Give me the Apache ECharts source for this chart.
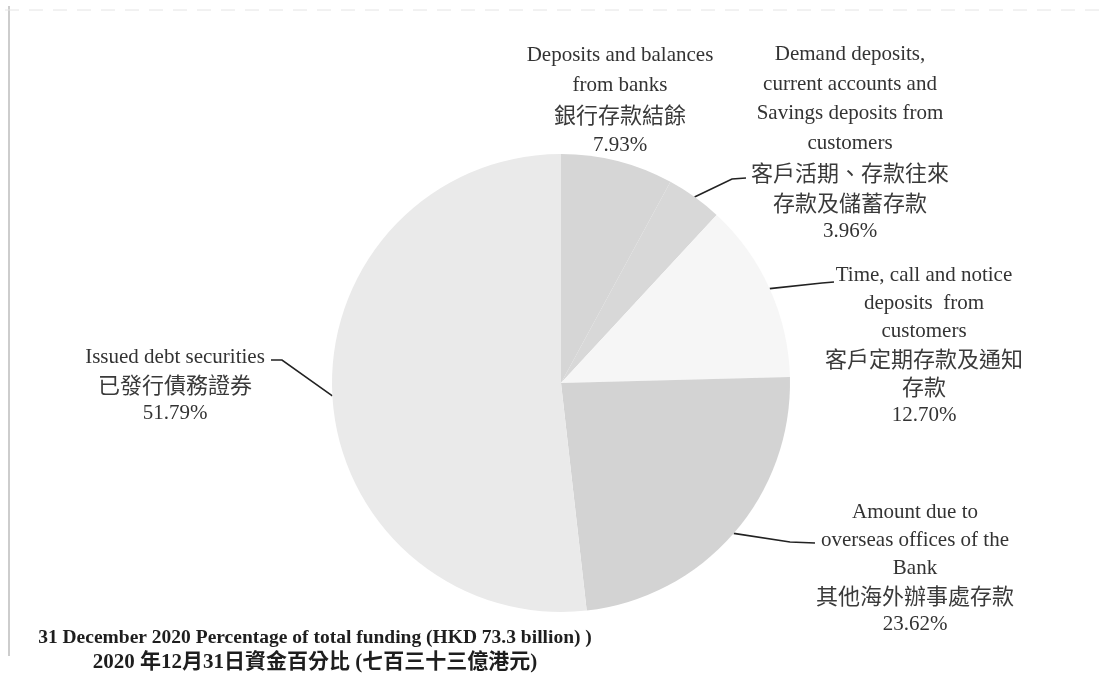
<!DOCTYPE html>
<html>
<head>
<meta charset="utf-8">
<script src="https://cdn.jsdelivr.net/npm/echarts@6/dist/echarts.min.js"></script>
<style>
html,body{margin:0;padding:0;background:#fff;}
#chart{width:1099px;height:674px;}
</style>
</head>
<body>
<div id="chart"></div>
<script>
// ---- data ----
const categoriesEn = [
  'Deposits and balances\nfrom banks',
  'Demand deposits,\ncurrent accounts and\nSavings deposits from\ncustomers',
  'Time, call and notice\ndeposits  from\ncustomers',
  'Amount due to\noverseas offices of the\nBank',
  'Issued debt securities'
];
const categoriesZh = [
  '銀行存款結餘',
  '客戶活期、存款往來\n存款及儲蓄存款',
  '客戶定期存款及通知\n存款',
  '其他海外辦事處存款',
  '已發行債務證券'
];
const percentages = [7.93, 3.96, 12.70, 23.62, 51.79];
const titleLines = [
  '31 December 2020 Percentage of total funding (HKD 73.3 billion) )',
  '2020 年12月31日資金百分比 (七百三十三億港元)'
];

// ---- layout / style ----
const sliceColors = ['#d6d6d6', '#d8d8d8', '#f6f6f6', '#d3d3d3', '#eaeaea'];
const labelPos = [[620, 40], [850, 40], [924, 261], [915, 498], [175, 343]];
const lineHeights = [30, 29.5, 28, 28, 28];
// bend + end of leader lines (null = no leader)
const leaderEnds = [
  null,
  [[732, 179], [746, 178]],
  [[822, 283], [834, 282]],
  [[790, 542], [815, 543]],
  [[282, 360], [271, 360]]
];

const chart = echarts.init(document.getElementById('chart'), null, {renderer: 'canvas'});
const enFont = "'Liberation Serif', 'Noto Sans CJK TC', serif";
const zhFont = "'Noto Sans CJK TC', 'Liberation Serif', serif";

const rich = {};
lineHeights.forEach(function (lh, i) {
  rich['e' + i] = {fontFamily: enFont, fontSize: 21, lineHeight: lh, color: '#333'};
  rich['c' + i] = {fontFamily: zhFont, fontSize: 22, lineHeight: lh, color: '#3a3a3a'};
});

const option = {
  animation: false,
  backgroundColor: '#ffffff',
  title: {
    text: '{a|' + titleLines[0] + '}\n{b|' + titleLines[1] + '}',
    left: 310,
    top: 620,
    textAlign: 'center',
    textStyle: {
      rich: {
        a: {fontFamily: enFont, fontWeight: 'bold', fontSize: 19.5, lineHeight: 25, color: '#1e1e1e'},
        b: {fontFamily: enFont, fontWeight: 'bold', fontSize: 21, lineHeight: 25, color: '#1e1e1e'}
      }
    }
  },
  graphic: [
    {type: 'line', shape: {x1: 9, y1: 6, x2: 9, y2: 656}, style: {stroke: '#bdbdbd', lineWidth: 1.5}},
    {type: 'line', shape: {x1: 5, y1: 10, x2: 1099, y2: 10}, style: {stroke: '#e4e4e4', lineWidth: 1, lineDash: [14, 10]}}
  ],
  series: [{
    type: 'pie',
    center: [561, 383],
    radius: 229,
    startAngle: 90,
    clockwise: true,
    avoidLabelOverlap: false,
    itemStyle: {borderWidth: 0},
    label: {
      show: true,
      position: 'outside',
      formatter: function (p) {
        const i = p.dataIndex;
        return '{e' + i + '|' + categoriesEn[i] + '}\n{c' + i + '|' + categoriesZh[i] + '}\n{e' + i + '|' + percentages[i].toFixed(2) + '%}';
      },
      align: 'center',
      rich: rich
    },
    labelLine: {show: true, length: 20, length2: 20, lineStyle: {color: '#222', width: 1.6}},
    labelLayout: function (params) {
      const i = params.dataIndex;
      const res = {x: labelPos[i][0], y: labelPos[i][1], align: 'center', verticalAlign: 'top'};
      if (leaderEnds[i] && params.labelLinePoints) {
        res.labelLinePoints = [params.labelLinePoints[0], leaderEnds[i][0], leaderEnds[i][1]];
      }
      return res;
    },
    emphasis: {disabled: true},
    data: percentages.map(function (v, i) {
      return {
        value: v,
        name: categoriesEn[i],
        itemStyle: {color: sliceColors[i]},
        labelLine: {show: leaderEnds[i] !== null}
      };
    })
  }]
};
chart.setOption(option);
</script>
</body>
</html>
